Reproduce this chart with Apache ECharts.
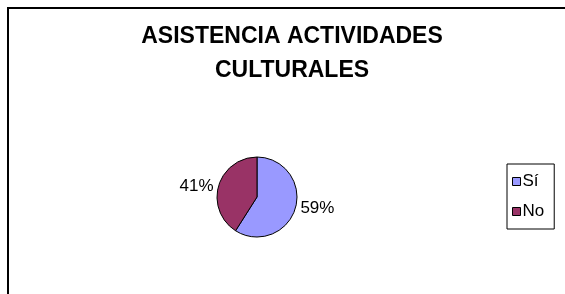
<!DOCTYPE html>
<html lang="es">

<head>
    <meta charset="UTF-8">
    <title>Asistencia actividades culturales</title>
    <script src="https://cdn.jsdelivr.net/npm/echarts@6/dist/echarts.min.js"></script>
    <style>
        body { margin: 0; background: #fff; }
    </style>
</head>

<body>
    <div id="main" style="width: 565px;height:294px;"></div>

    <script>
        // datos del gráfico
        const categorias = ["Sí", "No"];
        const valores = [59, 41];
        const colores = ["#9999FF", "#993366"];

        const myChart = echarts.init(document.getElementById('main'));

        let datos = categorias.map((c, i) => ({
            name: c,
            value: valores[i],
            itemStyle: { color: colores[i] }
        }));

        let option = {
            backgroundColor: '#fff',
            animation: false,
            title: {
                text: 'ASISTENCIA ACTIVIDADES\nCULTURALES',
                left: 287,
                textAlign: 'center',
                top: 15,
                textStyle: {
                    fontFamily: 'Liberation Sans, Arial',
                    fontSize: 23,
                    fontWeight: 'bold',
                    color: '#000',
                    lineHeight: 34
                }
            },
            graphic: [{
                type: 'rect',
                shape: { x: 8, y: 8, width: 600, height: 300 },
                style: { fill: 'none', stroke: '#000', lineWidth: 2 }
            }],
            legend: {
                orient: 'vertical',
                left: 507,
                top: 164,
                padding: [9, 10, 9, 5],
                itemWidth: 8,
                itemHeight: 8,
                itemGap: 13,
                icon: 'rect',
                borderColor: '#000',
                borderWidth: 1,
                itemStyle: { borderColor: '#000', borderWidth: 1 },
                textStyle: {
                    fontFamily: 'Liberation Sans, Arial',
                    fontSize: 17,
                    color: '#000',
                    padding: [0, 0, 0, -3]
                },
                data: categorias
            },
            series: [{
                type: 'pie',
                center: [257, 197],
                radius: 40,
                startAngle: 90,
                clockwise: true,
                itemStyle: { borderColor: '#000', borderWidth: 1 },
                label: {
                    show: true,
                    position: 'outside',
                    formatter: '{d}%',
                    fontFamily: 'Liberation Sans, Arial',
                    fontSize: 17,
                    color: '#000'
                },
                labelLine: { show: false, length: 0, length2: 0 },
                emphasis: { disabled: true },
                data: datos
            }]
        };

        myChart.setOption(option);
    </script>
</body>

</html>
